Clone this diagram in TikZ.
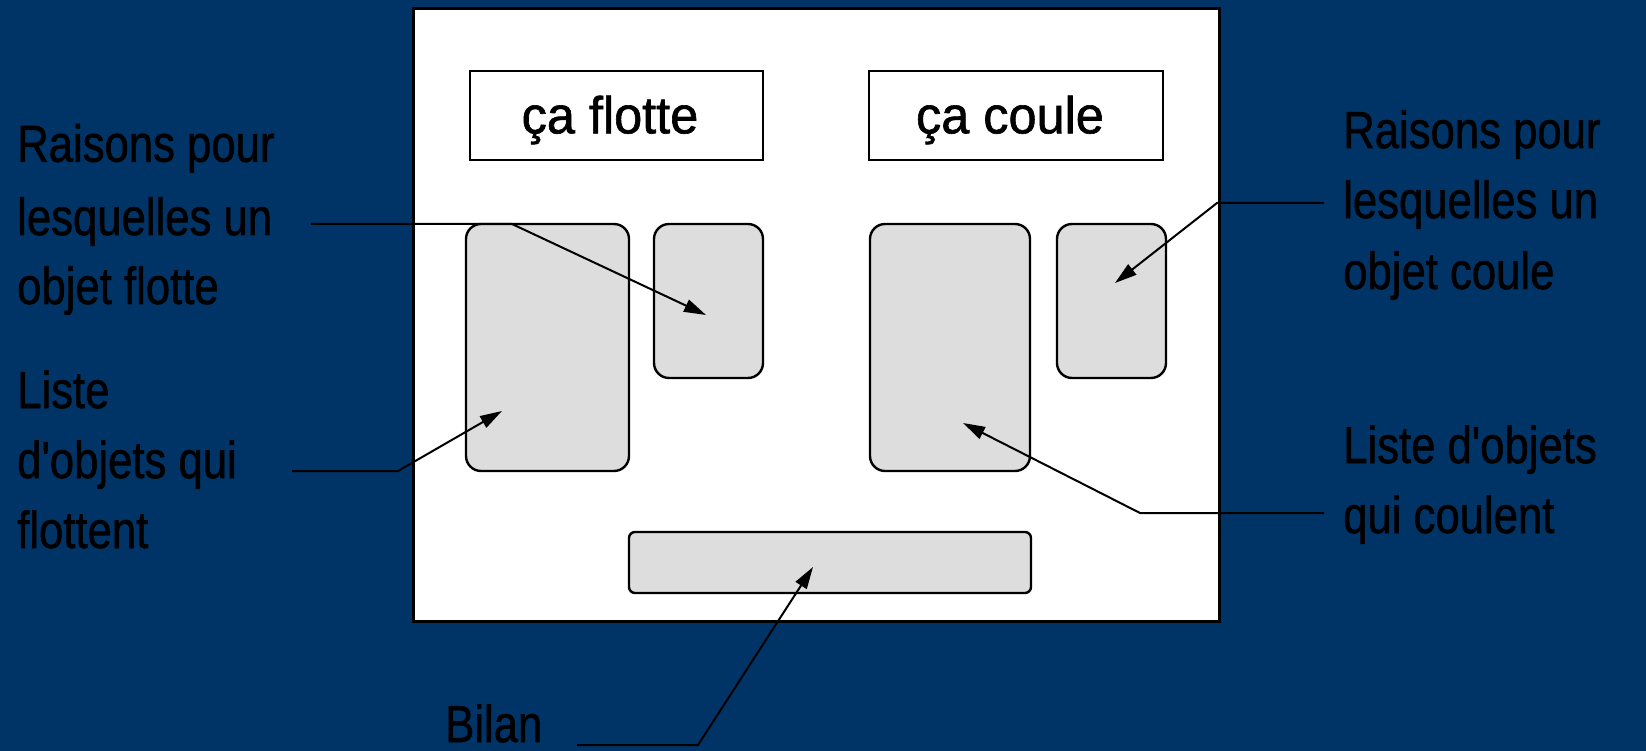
\documentclass[tikz,border=0pt]{standalone}
\usepackage{fontspec}
\setmainfont{Liberation Sans}
\newfontfamily\lblfont[FakeBold=1.2]{Liberation Sans}
\usetikzlibrary{arrows.meta}
\definecolor{bgblue}{HTML}{003366}
\definecolor{boxgray}{HTML}{DDDDDD}
\newcommand{\lbltext}[1]{\scalebox{0.84}[1]{#1}}
\newcommand{\boxtext}[1]{\scalebox{0.97}[1]{#1}}
\newcommand{\sq}{\symbol{39}}
\tikzset{
  panelbox/.style={draw=black, fill=white, line width=3pt, inner sep=0pt},
  titlebox/.style={draw=black, fill=white, line width=2.4pt, inner sep=0pt},
  graybox/.style={draw=black, fill=boxgray, line width=2.4pt, inner sep=0pt, rounded corners=15pt},
  bilanbox/.style={draw=black, fill=boxgray, line width=2.4pt, inner sep=0pt, rounded corners=6pt},
  lbl/.style={anchor=base west, inner sep=0pt, text=black, font=\lblfont\fontsize{52}{62}\selectfont},
  ttl/.style={anchor=base, inner sep=0pt, text=black, font=\lblfont\fontsize{52}{62}\selectfont},
  leader/.style={draw=black, line width=2pt, -{Triangle[length=22pt,width=13pt]}},
}
\begin{document}
\begin{tikzpicture}[x=1pt,y=-1pt]
\useasboundingbox (0,0) rectangle (1646,751);
\fill[bgblue] (0,0) rectangle (1646,751);

% panel
\node[panelbox, minimum width=806pt, minimum height=613pt] (panel) at (816,315) {};

% title boxes
\node[titlebox, minimum width=293pt, minimum height=89pt] (boxF) at (616.5,115.3) {};
\node[titlebox, minimum width=294pt, minimum height=89pt] (boxC) at (1016,115.3) {};
\node[ttl] (tF) at (610,133.3) {\boxtext{ça flotte}};
\node[ttl] (tC) at (1010,133.3) {\boxtext{ça coule}};

% gray boxes
\node[graybox, minimum width=163pt, minimum height=247pt] (bigL) at (547.5,347.5) {};
\node[graybox, minimum width=109pt, minimum height=154pt] (smallL) at (708.5,301) {};
\node[graybox, minimum width=160pt, minimum height=247pt] (bigR) at (950,347.5) {};
\node[graybox, minimum width=109pt, minimum height=154pt] (smallR) at (1111.5,301) {};
\node[bilanbox, minimum width=402pt, minimum height=61pt] (bilanbox) at (830,562.5) {};

% left labels
\node[lbl] (lA1) at (17,161.7) {\lbltext{Raisons pour}};
\node[lbl] (lA2) at (17,235) {\lbltext{lesquelles un}};
\node[lbl] (lA3) at (17,304) {\lbltext{objet flotte}};
\node[lbl] (lB1) at (17,408) {\lbltext{Liste}};
\node[lbl] (lB2) at (17,478) {\lbltext{d\sq objets qui}};
\node[lbl] (lB3) at (17,548) {\lbltext{flottent}};

% right labels
\node[lbl] (lC1) at (1343,148) {\lbltext{Raisons pour}};
\node[lbl] (lC2) at (1343,218) {\lbltext{lesquelles un}};
\node[lbl] (lC3) at (1343,289) {\lbltext{objet coule}};
\node[lbl] (lD1) at (1343,463) {\lbltext{Liste d\sq objets}};
\node[lbl] (lD2) at (1343,533) {\lbltext{qui coulent}};

% bottom label
\node[lbl] (lE) at (445,742) {\lbltext{Bilan}};

% leader coordinates
\coordinate (a1) at (311,224);
\coordinate (a2) at (512,224);
\coordinate (a3) at (706,315);
\coordinate (b1) at (292,471);
\coordinate (b2) at (398,471);
\coordinate (b3) at (502,411);
\coordinate (c1) at (1324,203);
\coordinate (c2) at (1217,203);
\coordinate (c3) at (1115,283);
\coordinate (d1) at (1324,513);
\coordinate (d2) at (1140,513);
\coordinate (d3) at (963,423);
\coordinate (e1) at (577,745);
\coordinate (e2) at (698,745);
\coordinate (e3) at (813,567);

\draw[leader] (a1) -- (a2) -- (a3);
\draw[leader] (b1) -- (b2) -- (b3);
\draw[leader] (c1) -- (c2) -- (c3);
\draw[leader] (d1) -- (d2) -- (d3);
\draw[leader] (e1) -- (e2) -- (e3);
\end{tikzpicture}
\end{document}
